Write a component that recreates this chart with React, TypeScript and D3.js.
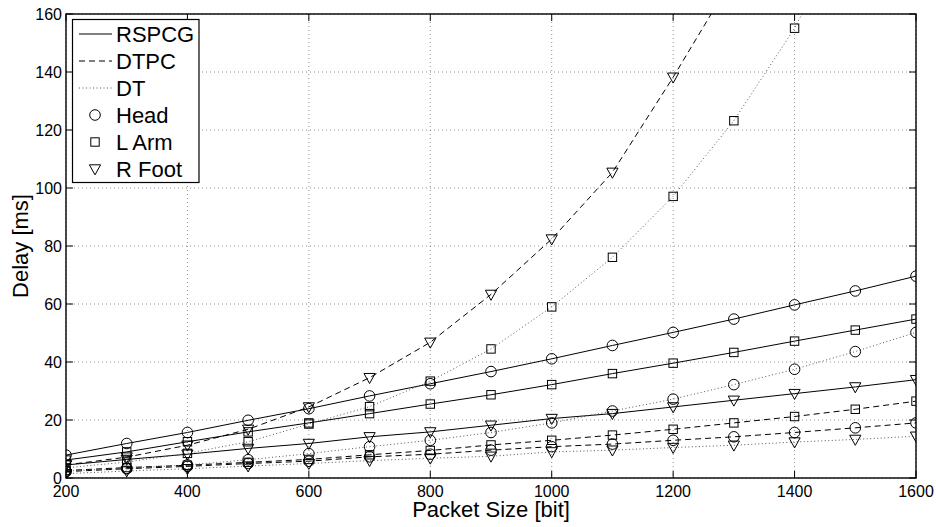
import React from "react";
import * as d3 from "d3";

const packetSizes = [200, 300, 400, 500, 600, 700, 800, 900, 1000, 1100, 1200, 1300, 1400, 1500, 1600];

const rspcgHead = [7.9, 11.9, 15.7, 19.9, 23.9, 28.3, 32.5, 36.7, 41.1, 45.7, 50.2, 54.8, 59.7, 64.5, 69.6];
const rspcgLArm = [6.2, 9.0, 12.5, 15.9, 19.0, 22.2, 25.5, 28.7, 32.2, 36.0, 39.6, 43.3, 47.2, 51.0, 54.8];
const rspcgRFoot = [4.5, 6.4, 8.2, 10.2, 11.9, 14.2, 15.9, 18.2, 20.5, 22.2, 24.5, 26.8, 29.1, 31.4, 33.9];

const dtpcHead = [2.2, 3.2, 4.0, 5.0, 5.8, 7.3, 8.2, 9.6, 10.8, 11.7, 13.0, 14.2, 15.7, 17.3, 19.0];
const dtpcLArm = [2.6, 3.6, 4.4, 5.4, 6.4, 8.0, 9.5, 11.4, 13.0, 14.8, 16.8, 19.0, 21.2, 23.7, 26.5];
const dtpcRFoot = [4.5, 7.2, 11.3, 16.8, 24.5, 34.6, 46.8, 63.3, 82.4, 105.4, 138.2, 173];

const dtHead = [2.4, 3.3, 4.5, 6.3, 8.4, 10.8, 13.0, 15.7, 19.0, 23.1, 27.2, 32.2, 37.5, 43.6, 50.2];
const dtLArm = [3.5, 5.5, 8.5, 12.5, 18.6, 24.6, 33.4, 44.5, 59.0, 76.1, 97.1, 123.2, 155.1, 196];
const dtRFoot = [1.5, 2.4, 3.2, 4.1, 5.0, 6.0, 6.8, 7.5, 9.0, 9.6, 10.5, 11.3, 12.4, 13.3, 14.4];

const xTicks = [200, 400, 600, 800, 1000, 1200, 1400, 1600];
const yTicks = [0, 20, 40, 60, 80, 100, 120, 140, 160];

const methodNames = ["RSPCG", "DTPC", "DT"];
const partNames = ["Head", "L Arm", "R Foot"];

type Marker = "circle" | "square" | "triangle";
type Method = "solid" | "dashed" | "dotted";

const series: { values: number[]; method: Method; marker: Marker }[] = [
  { values: rspcgHead, method: "solid", marker: "circle" },
  { values: rspcgLArm, method: "solid", marker: "square" },
  { values: rspcgRFoot, method: "solid", marker: "triangle" },
  { values: dtpcHead, method: "dashed", marker: "circle" },
  { values: dtpcLArm, method: "dashed", marker: "square" },
  { values: dtpcRFoot, method: "dashed", marker: "triangle" },
  { values: dtHead, method: "dotted", marker: "circle" },
  { values: dtLArm, method: "dotted", marker: "square" },
  { values: dtRFoot, method: "dotted", marker: "triangle" },
];

const W = 936;
const H = 527;
const M = { left: 66, right: 916, top: 14, bottom: 478 };
const FONT = "'Liberation Sans', Arial, Helvetica, sans-serif";

const dashFor = (m: Method) => (m === "solid" ? undefined : m === "dashed" ? "6 4" : "1 2.5");
const colorFor = (m: Method) => (m === "dotted" ? "#555" : "#000");

function MarkerShape({ type, x, y }: { type: Marker; x: number; y: number }) {
  const common = { fill: "none", stroke: "#000", strokeWidth: 1 };
  if (type === "circle") return <circle cx={x} cy={y} r={5.3} {...common} />;
  if (type === "square") return <rect x={x - 4.2} y={y - 4.2} width={8.4} height={8.4} {...common} />;
  const s = 5.6;
  const p = `M${x - s},${y - s * 0.75} L${x + s},${y - s * 0.75} L${x},${y + s * 1.05} Z`;
  return <path d={p} {...common} />;
}

export default function App() {
  const x = d3.scaleLinear().domain([200, 1600]).range([M.left, M.right]);
  const y = d3.scaleLinear().domain([0, 160]).range([M.bottom, M.top]);
  const line = d3
    .line<number>()
    .x((_, i) => x(packetSizes[i]))
    .y((d) => y(d));
  const tickLen = 7;

  const legendY = [34, 61, 88, 115, 142, 169];

  return (
    <svg
      width={W}
      height={H}
      style={{ position: "absolute", left: 0, top: 0, background: "#fff" }}
      fontFamily={FONT}
    >
      <defs>
        <clipPath id="plotclip">
          <rect x={M.left} y={M.top} width={M.right - M.left} height={M.bottom - M.top} />
        </clipPath>
      </defs>
      <rect x={0} y={0} width={W} height={H} fill="#fff" />
      {/* grid */}
      {xTicks.map((t) => (
        <line key={"gx" + t} x1={x(t)} x2={x(t)} y1={M.top} y2={M.bottom} stroke="#777" strokeWidth={0.8} strokeDasharray="1 3" />
      ))}
      {yTicks.map((t) => (
        <line key={"gy" + t} x1={M.left} x2={M.right} y1={y(t)} y2={y(t)} stroke="#777" strokeWidth={0.8} strokeDasharray="1 3" />
      ))}
      {/* ticks */}
      {xTicks.map((t) => (
        <g key={"tx" + t} stroke="#000" strokeWidth={1}>
          <line x1={x(t)} x2={x(t)} y1={M.bottom} y2={M.bottom - tickLen} />
          <line x1={x(t)} x2={x(t)} y1={M.top} y2={M.top + tickLen} />
        </g>
      ))}
      {yTicks.map((t) => (
        <g key={"ty" + t} stroke="#000" strokeWidth={1}>
          <line x1={M.left} x2={M.left + tickLen} y1={y(t)} y2={y(t)} />
          <line x1={M.right} x2={M.right - tickLen} y1={y(t)} y2={y(t)} />
        </g>
      ))}
      {/* data */}
      <g clipPath="url(#plotclip)">
        {series.map((s, i) => (
          <path
            key={"l" + i}
            d={line(s.values) || ""}
            fill="none"
            stroke={colorFor(s.method)}
            strokeWidth={1}
            strokeDasharray={dashFor(s.method)}
          />
        ))}
        {series.map((s, i) =>
          s.values.map((v, j) => (
            <MarkerShape key={`m${i}-${j}`} type={s.marker} x={x(packetSizes[j])} y={y(v)} />
          ))
        )}
      </g>
      {/* frame */}
      <rect x={M.left} y={M.top} width={M.right - M.left} height={M.bottom - M.top} fill="none" stroke="#000" strokeWidth={1.4} />
      {/* tick labels */}
      {xTicks.map((t) => (
        <text key={"lx" + t} x={x(t)} y={497} textAnchor="middle" fontSize={16} fill="#000">
          {t}
        </text>
      ))}
      {yTicks.map((t) => (
        <text key={"ly" + t} x={M.left - 4} y={y(t) + 5.5} textAnchor="end" fontSize={16} fill="#000">
          {t}
        </text>
      ))}
      {/* axis titles */}
      <text x={(M.left + M.right) / 2} y={517} textAnchor="middle" fontSize={22} fill="#000">
        Packet Size [bit]
      </text>
      <text
        transform={`translate(28,${(M.top + M.bottom) / 2}) rotate(-90)`}
        textAnchor="middle"
        fontSize={22}
        fill="#000"
      >
        Delay [ms]
      </text>
      {/* legend */}
      <g>
        <rect x={72.5} y={19.5} width={126.5} height={163} fill="#fff" stroke="#000" strokeWidth={1.2} />
        {methodNames.map((name, i) => {
          const m: Method = i === 0 ? "solid" : i === 1 ? "dashed" : "dotted";
          return (
            <g key={"lm" + name}>
              <line x1={79} x2={112} y1={legendY[i]} y2={legendY[i]} stroke={colorFor(m)} strokeWidth={1} strokeDasharray={dashFor(m)} />
              <text x={116} y={legendY[i] + 8} fontSize={22} fill="#000">
                {name}
              </text>
            </g>
          );
        })}
        {partNames.map((name, i) => {
          const mk: Marker = i === 0 ? "circle" : i === 1 ? "square" : "triangle";
          const yy = legendY[i + 3];
          return (
            <g key={"lp" + name}>
              <MarkerShape type={mk} x={95} y={yy} />
              <text x={116} y={yy + 8} fontSize={22} fill="#000">
                {name}
              </text>
            </g>
          );
        })}
      </g>
    </svg>
  );
}
